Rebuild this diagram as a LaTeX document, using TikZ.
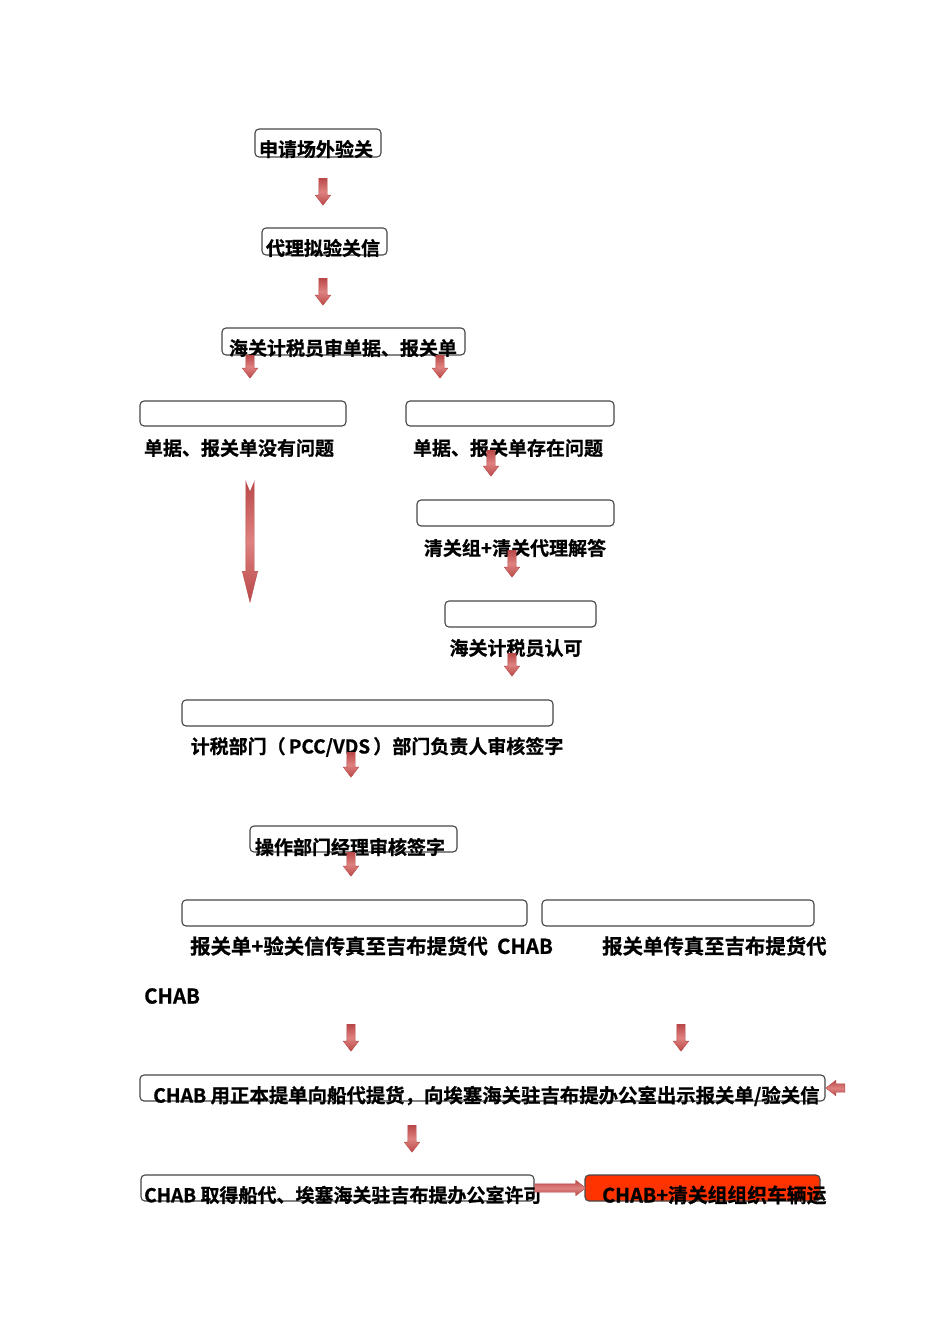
\documentclass[tikz,border=0pt]{standalone}
\usepackage{fontspec}
\newfontfamily\cjk{Noto Sans CJK SC}[BoldFont={Noto Sans CJK SC Bold}, BoldFeatures={FakeBold=0.8}]
\usetikzlibrary{shapes.arrows}
\definecolor{arrdark}{RGB}{185,72,72}
\definecolor{arrlight}{RGB}{222,130,128}
\definecolor{boxline}{RGB}{70,70,70}
\definecolor{redfill}{RGB}{255,51,0}
\tikzset{
  box/.style={draw=boxline, line width=1.1pt, rounded corners=4pt, fill=white, inner sep=0pt},
  lbl/.style={inner sep=0pt, font=\cjk\bfseries\fontsize{19}{22}\selectfont, text=black},
  arrbase/.style={single arrow, draw=arrdark, line width=0.4pt,
    top color=arrdark, bottom color=arrdark, middle color=arrlight,
    text height=4pt, text depth=4pt, text width=0pt, single arrow head extend=3.5pt, single arrow tip angle=75,
    inner sep=0pt, minimum height=#1, anchor=tail},
  darr/.style={arrbase=#1, rotate=-90},
  harr/.style={arrbase=#1},
}
\begin{document}
\begin{tikzpicture}[x=1pt,y=-1pt]
\useasboundingbox (0,0) rectangle (950,1344);
% boxes
\node[box, minimum width=126pt, minimum height=28pt] (b1) at (318,143) {};
\node[box, minimum width=125pt, minimum height=27pt] (b2) at (324.5,241.5) {};
\node[box, minimum width=243pt, minimum height=27pt] (b3) at (343.5,341.5) {};
\node[box, minimum width=206pt, minimum height=25pt] (b4) at (243,413.5) {};
\node[box, minimum width=208pt, minimum height=25pt] (b5) at (510,413.5) {};
\node[box, minimum width=197pt, minimum height=26pt] (b6) at (515.5,513) {};
\node[box, minimum width=151pt, minimum height=26pt] (b7) at (520.5,614) {};
\node[box, minimum width=371pt, minimum height=26pt] (b8) at (367.5,713) {};
\node[box, minimum width=207pt, minimum height=26pt] (b9) at (353.5,839) {};
\node[box, minimum width=345pt, minimum height=26pt] (b10) at (354.5,913) {};
\node[box, minimum width=272pt, minimum height=26pt] (b11) at (678,913) {};
\node[box, minimum width=685pt, minimum height=26pt] (b12) at (482.5,1088) {};
\node[box, minimum width=393pt, minimum height=26pt] (b13) at (337.5,1188) {};
\node[box, fill=redfill, minimum width=235pt, minimum height=26pt] (b14) at (702.5,1188) {};
% labels
\node[lbl] (t1) at (316,149) {申请场外验关};
\node[lbl] (t2) at (323,248) {代理拟验关信};
\node[lbl] (t3) at (343,348) {海关计税员审单据、报关单};
\node[lbl] (t4) at (239,448) {单据、报关单没有问题};
\node[lbl] (t5) at (508,448) {单据、报关单存在问题};
\node[lbl] (t6) at (515,548) {清关组+清关代理解答};
\node[lbl] (t7) at (516,648) {海关计税员认可};
\node[lbl] (t8) at (377,747) {计税部门（\,PCC/VDS\,）部门负责人审核签字};
\node[lbl] (t9) at (350,847) {操作部门经理审核签字};
\node[lbl, anchor=west, font=\cjk\bfseries\fontsize{20.4}{24}\selectfont] (t10) at (190,946) {报关单+验关信传真至吉布提货代\ \ CHAB};
\node[lbl, anchor=west, font=\cjk\bfseries\fontsize{20.4}{24}\selectfont] (t10b) at (144,996) {CHAB};
\node[lbl, anchor=west, font=\cjk\bfseries\fontsize{20.4}{24}\selectfont] (t11) at (602,946) {报关单传真至吉布提货代};
\node[lbl, anchor=west, font=\cjk\bfseries\fontsize{19.4}{23}\selectfont] (t12) at (153,1096) {CHAB 用正本提单向船代提货，向埃塞海关驻吉布提办公室出示报关单/验关信};
\node[lbl, anchor=west] (t13) at (144,1195) {CHAB 取得船代、埃塞海关驻吉布提办公室许可};
\node[lbl, anchor=west, font=\cjk\bfseries\fontsize{19.8}{23}\selectfont] (t14) at (602,1195) {CHAB+清关组组织车辆运};
% arrows (tail at given point)
\node[darr=27pt] (a1) at (323,178) {};
\node[darr=27pt] (a2) at (323,278) {};
\node[darr=23pt] (a3) at (250,355) {};
\node[darr=23pt] (a4) at (440,355) {};
\node[darr=122pt, single arrow tip angle=28] (along) at (250,480) {};
\fill[white] (245,479) -- (255,479) -- (250,491) -- cycle;
\node[darr=26pt] (a5) at (491,450) {};
\node[darr=27pt] (a6) at (512,550) {};
\node[darr=23pt] (a7) at (512,653) {};
\node[darr=25pt] (a8) at (351,752) {};
\node[darr=24pt] (a9) at (351,852) {};
\node[darr=27pt] (a10) at (351,1024) {};
\node[darr=27pt] (a11) at (681,1024) {};
\node[darr=27pt] (a12) at (412,1125) {};
\node[harr=51pt] (ah) at (b13.east) {};
\node[harr=19pt, rotate=180] (al) at (845,1088) {};
\end{tikzpicture}
\end{document}
